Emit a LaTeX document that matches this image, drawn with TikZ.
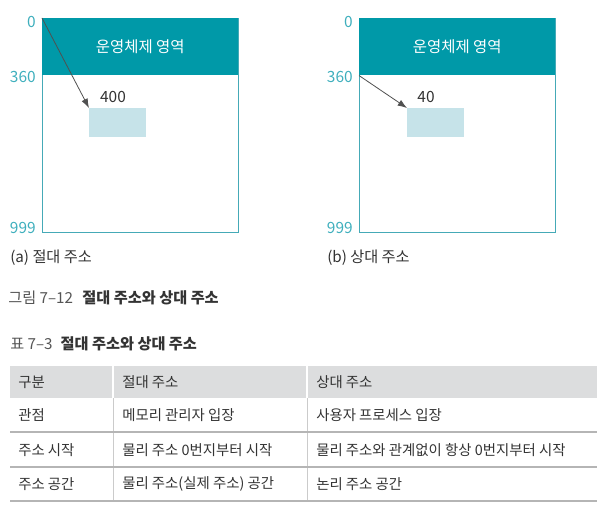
\documentclass[tikz,border=0pt]{standalone}
\usepackage{fontspec}
\setmainfont{Noto Sans CJK KR}
\usetikzlibrary{positioning,arrows.meta}

\definecolor{osteal}{HTML}{0099A8}
\definecolor{memline}{HTML}{45AAB7}
\definecolor{addrteal}{HTML}{3FAFBD}
\definecolor{blockblue}{HTML}{C6E3E9}
\definecolor{ptrgray}{HTML}{505050}
\definecolor{textgray}{HTML}{333333}
\definecolor{capgray}{HTML}{555555}
\definecolor{headgray}{HTML}{DCDDDE}
\definecolor{rulegray}{HTML}{B5B5B5}

\begin{document}
\begin{tikzpicture}[x=0.75pt, y=-0.75pt, font=\fontsize{10.8}{12}\selectfont, text=textgray,
    memory/.style={draw=memline, line width=0.8pt, minimum width=147pt, minimum height=160.5pt,
      inner sep=0pt, anchor=north west},
    osarea/.style={fill=osteal, text=white, minimum width=147pt, minimum height=42.75pt,
      inner sep=0pt, anchor=north west, font=\fontsize{11.6}{12}\selectfont},
    block/.style={fill=blockblue, minimum width=42.75pt, minimum height=21.75pt,
      inner sep=0pt, anchor=north west},
    addr/.style={text=addrteal, anchor=east, inner sep=0pt, font=\fontsize{11.6}{12}\selectfont},
    ptr/.style={-{Latex[length=7pt,width=5pt]}, draw=ptrgray, line width=0.6pt},
    cell/.style={anchor=west, inner sep=0pt},
    rowline/.style={draw=rulegray, line width=1.1pt},
    colline/.style={draw=rulegray!70, line width=0.7pt}]
  \useasboundingbox (0,0) rectangle (606,510);

  % (a) absolute address
  \node[memory] (mema) at (42,18) {};
  \node[osarea] (osa) at (42,18) {운영체제 영역};
  \node[block] (blka) at (89,108) {};
  \node[font=\fontsize{11.6}{12}\selectfont] (offa) at (113,97) {400};
  \node[addr] (a0) at (36,22) {0};
  \node[addr] (a360) at (36,77) {360};
  \node[addr] (a999) at (36,228) {999};
  \draw[ptr] (mema.north west) -- (blka.north west);
  \node[cell, font=\fontsize{11.4}{12}\selectfont] (capa) at (10,258) {(a) 절대 주소};

  % (b) relative address
  \node[memory] (memb) at (359,18) {};
  \node[osarea] (osb) at (359,18) {운영체제 영역};
  \node[block] (blkb) at (407,108) {};
  \node[font=\fontsize{11.6}{12}\selectfont] (offb) at (426,97) {40};
  \node[addr] (b0) at (353,22) {0};
  \node[addr] (b360) at (353,77) {360};
  \node[addr] (b999) at (353,228) {999};
  \draw[ptr] (osb.south west) -- (blkb.north west);
  \node[cell, font=\fontsize{11.4}{12}\selectfont] (capb) at (327,258) {(b) 상대 주소};

  % captions
  \node[cell, font=\fontsize{11.4}{12}\selectfont] (figcap) at (8,298)
    {\textcolor{capgray}{그림 7–12}\hspace{7pt}\textbf{절대 주소와 상대 주소}};
  \node[cell, font=\fontsize{11.4}{12}\selectfont] (tabcap) at (10,344)
    {\textcolor{capgray}{표 7–3}\hspace{6pt}\textbf{절대 주소와 상대 주소}};

  % table
  \fill[headgray] (10,366) rectangle (597,398);
  \foreach \x in {113,307} {
    \draw[white, line width=0.8pt] (\x,366) -- (\x,398);
    \draw[colline] (\x,398) -- (\x,501);
  }
  \foreach \y in {432,467,501}
    \draw[rowline] (10,\y) -- (597,\y);

  \node[cell] (h1) at (18,382) {구분};
  \node[cell] (h2) at (122,382) {절대 주소};
  \node[cell] (h3) at (316,382) {상대 주소};
  \node[cell] (r1a) at (18,415) {관점};
  \node[cell] (r1b) at (122,415) {메모리 관리자 입장};
  \node[cell] (r1c) at (316,415) {사용자 프로세스 입장};
  \node[cell] (r2a) at (18,450) {주소 시작};
  \node[cell] (r2b) at (122,450) {물리 주소 0번지부터 시작};
  \node[cell] (r2c) at (316,450) {물리 주소와 관계없이 항상 0번지부터 시작};
  \node[cell] (r3a) at (18,484) {주소 공간};
  \node[cell] (r3b) at (122,484) {물리 주소(실제 주소) 공간};
  \node[cell] (r3c) at (316,484) {논리 주소 공간};
\end{tikzpicture}
\end{document}
